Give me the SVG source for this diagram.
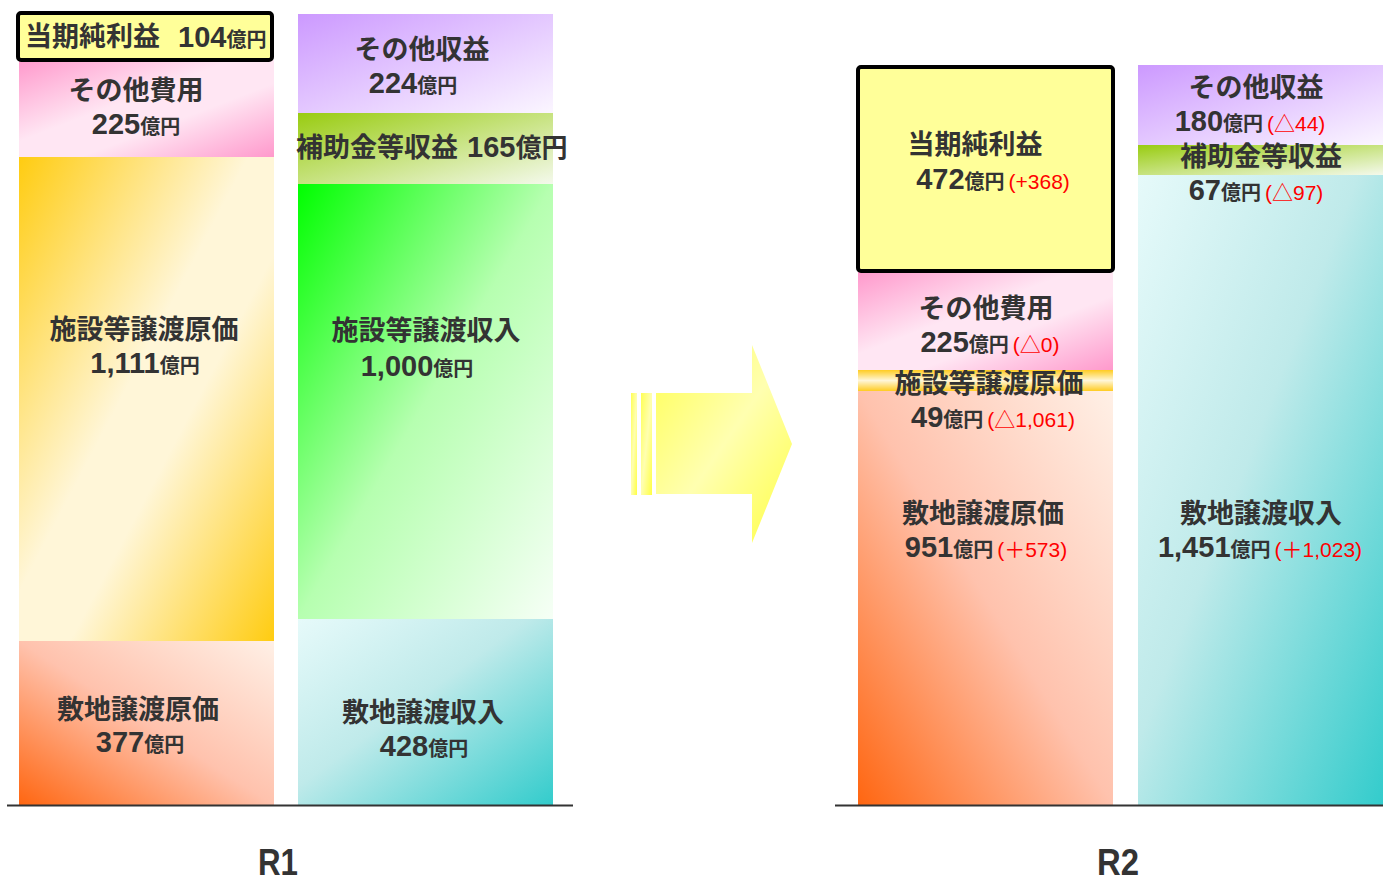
<svg xmlns="http://www.w3.org/2000/svg" width="1383" height="881" viewBox="0 0 1383 881">
<style>
text{font-family:"Noto Sans CJK JP","Noto Sans",sans-serif;fill:#333;}
.t{font-size:27px;font-weight:700;}
.n{font-family:"Liberation Sans","Noto Sans CJK JP",sans-serif;font-size:29px;font-weight:700;}
.u{font-size:20px;font-weight:700;}
.r{font-family:"Liberation Sans","Noto Sans CJK JP",sans-serif;font-size:21px;font-weight:400;fill:#f00;}
.lab{font-family:"Liberation Sans",sans-serif;font-size:37px;font-weight:700;fill:#333;}
.box{fill:#ffff99;stroke:#000;stroke-width:4;}
.axis{stroke:#333;stroke-width:2;}
</style>
<defs>
<linearGradient id="gPink" x1="0" y1="0" x2="1" y2="1"><stop offset="0" stop-color="#ff99cc"/><stop offset="0.42" stop-color="#ffe6f3"/><stop offset="0.62" stop-color="#ffe6f3"/><stop offset="1" stop-color="#ff99cc"/></linearGradient>
<linearGradient id="gGold" x1="0" y1="0" x2="1" y2="1"><stop offset="0" stop-color="#ffcc11"/><stop offset="0.45" stop-color="#fff6d8"/><stop offset="0.6" stop-color="#fff6d8"/><stop offset="1" stop-color="#ffcc11"/></linearGradient>
<linearGradient id="gGold2" x1="0" y1="0" x2="0" y2="1"><stop offset="0" stop-color="#ffcc22"/><stop offset="0.5" stop-color="#fff6d8"/><stop offset="1" stop-color="#ffcc22"/></linearGradient>
<linearGradient id="gOrange" x1="0" y1="1" x2="1" y2="0"><stop offset="0" stop-color="#ff6611"/><stop offset="0.5" stop-color="#ffc2ad"/><stop offset="1" stop-color="#fff0e6"/></linearGradient>
<linearGradient id="gPurple" x1="0" y1="0" x2="1" y2="1"><stop offset="0" stop-color="#cc99ff"/><stop offset="1" stop-color="#fbf6ff"/></linearGradient>
<linearGradient id="gOlive" x1="0" y1="0" x2="1" y2="1"><stop offset="0" stop-color="#99cc11"/><stop offset="1" stop-color="#f4f9ec"/></linearGradient>
<linearGradient id="gGreen" x1="0" y1="0" x2="1" y2="1"><stop offset="0" stop-color="#00ff00"/><stop offset="0.5" stop-color="#b6ffb0"/><stop offset="1" stop-color="#f6fff6"/></linearGradient>
<linearGradient id="gTeal" x1="0" y1="0" x2="1" y2="1"><stop offset="0" stop-color="#e6fafa"/><stop offset="0.45" stop-color="#bfeaea"/><stop offset="1" stop-color="#33cccc"/></linearGradient>
<linearGradient id="gArrow" x1="0" y1="0" x2="1" y2="1"><stop offset="0" stop-color="#ffff55"/><stop offset="0.5" stop-color="#ffffb0"/><stop offset="1" stop-color="#ffff44"/></linearGradient>
</defs>

<g id="r1-expense">
  <g id="r1-land-cost"><rect x="19" y="641" width="255" height="164" fill="url(#gOrange)"/>
    <text class="t" x="138" y="719" text-anchor="middle">敷地譲渡原価</text>
    <text x="140" y="752" text-anchor="middle"><tspan class="n">377</tspan><tspan class="u">億円</tspan></text></g>
  <g id="r1-facility-cost"><rect x="19" y="157" width="255" height="484" fill="url(#gGold)"/>
    <text class="t" x="144" y="339" text-anchor="middle">施設等譲渡原価</text>
    <text x="145" y="373" text-anchor="middle"><tspan class="n">1,111</tspan><tspan class="u">億円</tspan></text></g>
  <g id="r1-other-expense"><rect x="19" y="60" width="255" height="97" fill="url(#gPink)"/>
    <text class="t" x="136" y="100" text-anchor="middle">その他費用</text>
    <text x="136" y="134" text-anchor="middle"><tspan class="n">225</tspan><tspan class="u">億円</tspan></text></g>
  <g id="r1-net-income"><rect class="box" x="18" y="13" width="254" height="47" rx="3"/>
    <text class="t" x="25" y="46">当期純利益</text>
    <text x="178" y="47"><tspan class="n">104</tspan><tspan class="u">億円</tspan></text></g>
</g>

<g id="r1-revenue">
  <g id="r1-land-rev"><rect x="298" y="619" width="255" height="186" fill="url(#gTeal)"/>
    <text class="t" x="423" y="722" text-anchor="middle">敷地譲渡収入</text>
    <text x="424" y="756" text-anchor="middle"><tspan class="n">428</tspan><tspan class="u">億円</tspan></text></g>
  <g id="r1-facility-rev"><rect x="298" y="184" width="255" height="435" fill="url(#gGreen)"/>
    <text class="t" x="426" y="340" text-anchor="middle">施設等譲渡収入</text>
    <text x="417" y="376" text-anchor="middle"><tspan class="n">1,000</tspan><tspan class="u">億円</tspan></text></g>
  <g id="r1-subsidy"><rect x="298" y="113" width="255" height="71" fill="url(#gOlive)"/>
    <text class="t" x="296" y="157">補助金等収益</text>
    <text x="467" y="157"><tspan class="n">165</tspan><tspan class="t" style="font-size:26px">億円</tspan></text></g>
  <g id="r1-other-revenue"><rect x="298" y="14" width="255" height="99" fill="url(#gPurple)"/>
    <text class="t" x="422" y="59" text-anchor="middle">その他収益</text>
    <text x="413" y="93" text-anchor="middle"><tspan class="n">224</tspan><tspan class="u">億円</tspan></text></g>
</g>

<g id="r2-expense">
  <g id="r2-land-cost"><rect x="858" y="391" width="255" height="414" fill="url(#gOrange)"/>
    <text class="t" x="983" y="523" text-anchor="middle">敷地譲渡原価</text>
    <text x="986" y="557" text-anchor="middle"><tspan class="n">951</tspan><tspan class="u">億円</tspan><tspan class="r" dx="4">(＋573)</tspan></text></g>
  <g id="r2-facility-cost"><rect x="858" y="370" width="255" height="21" fill="url(#gGold2)"/>
    <text class="t" x="989" y="393" text-anchor="middle">施設等譲渡原価</text>
    <text x="993" y="427" text-anchor="middle"><tspan class="n">49</tspan><tspan class="u">億円</tspan><tspan class="r" dx="4">(△1,061)</tspan></text></g>
  <g id="r2-other-expense"><rect x="858" y="272" width="255" height="98" fill="url(#gPink)"/>
    <text class="t" x="986" y="318" text-anchor="middle">その他費用</text>
    <text x="990" y="352" text-anchor="middle"><tspan class="n">225</tspan><tspan class="u">億円</tspan><tspan class="r" dx="4">(△0)</tspan></text></g>
  <g id="r2-net-income"><rect class="box" x="858" y="67" width="255" height="204" rx="3"/>
    <text class="t" x="975" y="154" text-anchor="middle">当期純利益</text>
    <text x="993" y="189" text-anchor="middle"><tspan class="n">472</tspan><tspan class="u">億円</tspan><tspan class="r" dx="4">(+368)</tspan></text></g>
</g>

<g id="r2-revenue">
  <g id="r2-land-rev"><rect x="1138" y="175" width="245" height="630" fill="url(#gTeal)"/>
    <text class="t" x="1261" y="523" text-anchor="middle">敷地譲渡収入</text>
    <text x="1260" y="557" text-anchor="middle"><tspan class="n">1,451</tspan><tspan class="u">億円</tspan><tspan class="r" dx="4">(＋1,023)</tspan></text></g>
  <g id="r2-other-revenue"><rect x="1138" y="65" width="245" height="80" fill="url(#gPurple)"/>
    <text class="t" x="1256" y="97" text-anchor="middle">その他収益</text>
    <text x="1250" y="131" text-anchor="middle"><tspan class="n">180</tspan><tspan class="u">億円</tspan><tspan class="r" dx="4">(△44)</tspan></text></g>
  <g id="r2-subsidy"><rect x="1138" y="145" width="245" height="30" fill="url(#gOlive)"/>
    <text class="t" x="1261" y="166" text-anchor="middle">補助金等収益</text>
    <text x="1256" y="200" text-anchor="middle"><tspan class="n">67</tspan><tspan class="u">億円</tspan><tspan class="r" dx="4">(△97)</tspan></text></g>
</g>

<g id="arrow">
  <rect x="631" y="393" width="6" height="102" fill="url(#gArrow)"/>
  <rect x="641" y="393" width="11" height="102" fill="url(#gArrow)"/>
  <path d="M656 393 H752 V345 L792 444 L752 543 V494 H656 Z" fill="url(#gArrow)"/>
</g>

<g id="connectors">
  <line class="axis" x1="7" y1="805.5" x2="573" y2="805.5"/>
  <line class="axis" x1="835" y1="805.5" x2="1383" y2="805.5"/>
</g>

<g id="labels">
  <text class="lab" x="278" y="875" text-anchor="middle" textLength="40" lengthAdjust="spacingAndGlyphs">R1</text>
  <text class="lab" x="1118" y="875" text-anchor="middle" textLength="42" lengthAdjust="spacingAndGlyphs">R2</text>
</g>
</svg>
